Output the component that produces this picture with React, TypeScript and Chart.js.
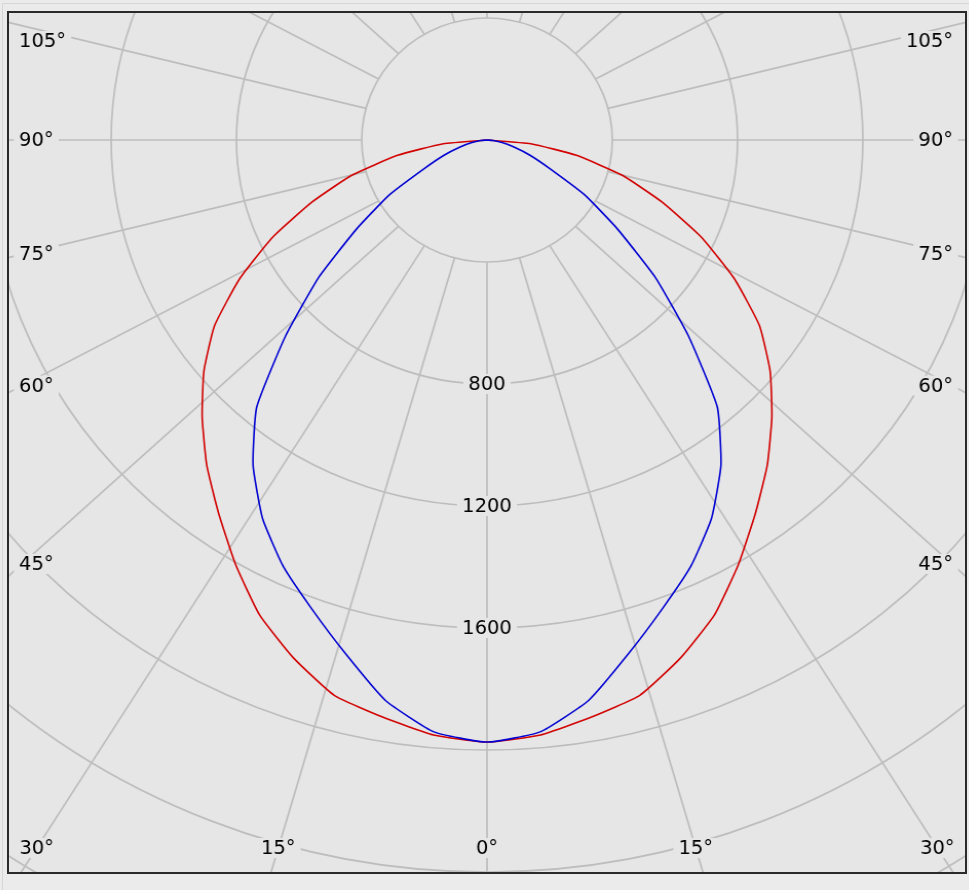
import React, { useEffect, useRef } from "react";
import { Chart, registerables } from "chart.js";

Chart.register(...registerables);

// ---- data (candela values, every 5°) ----
const angles = [0, 5, 10, 15, 20, 25, 30, 35, 40, 45, 50, 55, 60, 65, 70, 75, 80, 85, 90];
const redLeft = [1974, 1958, 1921, 1885, 1807, 1718, 1606, 1494, 1392, 1286, 1180, 1062, 913, 756, 594, 447, 290, 140, 0];
const redRight = [1974, 1958, 1921, 1885, 1807, 1718, 1606, 1494, 1392, 1286, 1180, 1062, 913, 756, 594, 447, 290, 140, 0];
const blueLeft = [1974, 1948, 1866, 1744, 1636, 1541, 1433, 1302, 1144, 910, 702, 508, 360, 220, 146, 89, 49, 20, 0];
const blueRight = [1974, 1948, 1866, 1744, 1636, 1541, 1433, 1302, 1144, 910, 702, 508, 360, 220, 146, 89, 49, 20, 0];

const ringLabels = [800, 1200, 1600];
const innerRingValue = 400;
const spokeAngles = [0, 15, 30, 45, 60, 75, 90, 105, 120, 135, 150, 165, 180];
const sideAngleLabels = [45, 60, 75, 90, 105];
const bottomAngleLabels = [0, 15, 30];

// ---- layout / style ----
const STEP_DEG = 5;
const R_MAX = 3600;
const R_STEP = 400;
const SIZE = 2196;
const HALF = SIZE / 2;
const CENTER = { x: 487, y: 140 };
const FRAME = { left: 7, top: 11, width: 960, height: 863, border: 2 };
const SX = 1.027;
const SPOKE_SKEW = 1.075;
const SPOKE_OUTER = 1000;
const GRID = "#bdbdbd";
const GRID_W = 1.7;
const BG = "#e6e6e6";
const FONT = "19px 'DejaVu Sans', Verdana, sans-serif";

function buildSeries(left: number[], right: number[]) {
  const n = 360 / STEP_DEG;
  const arr: (number | null)[] = new Array(n).fill(null);
  angles.forEach((a, i) => {
    arr[a / STEP_DEG] = left[i];
    if (a > 0) arr[(n - a / STEP_DEG) % n] = right[i];
  });
  return arr;
}

const labels = Array.from({ length: 360 / STEP_DEG }, (_, i) => `${i * STEP_DEG}`);

const polarDecor = {
  id: "polarDecor",
  beforeDatasetsDraw(chart: any) {
    const s = chart.scales.r;
    const ctx: CanvasRenderingContext2D = chart.ctx;
    const xc = s.xCenter;
    const yc = s.yCenter;
    const rIn = s.getDistanceFromCenterForValue(innerRingValue);
    const toCx = (px: number) => xc + (px - CENTER.x) / SX;
    const toCy = (py: number) => yc + (py - CENTER.y);

    const spoke = (a: number, side: number) => {
      const t = (a * Math.PI) / 180;
      const x1 = xc + side * rIn * Math.sin(t);
      const y1 = yc + rIn * Math.cos(t);
      const x2 = xc + side * SPOKE_OUTER * SPOKE_SKEW * Math.sin(t);
      const y2 = yc + SPOKE_OUTER * Math.cos(t);
      return { x1, y1, x2, y2 };
    };

    ctx.save();
    ctx.strokeStyle = GRID;
    ctx.lineWidth = GRID_W;
    spokeAngles.forEach((a) => {
      const sides = a === 0 || a === 180 ? [1] : [-1, 1];
      sides.forEach((side) => {
        const { x1, y1, x2, y2 } = spoke(a, side);
        ctx.beginPath();
        ctx.moveTo(x1, y1);
        ctx.lineTo(x1 + (x2 - x1) * 1.6, y1 + (y2 - y1) * 1.6);
        ctx.stroke();
      });
    });

    ctx.font = FONT;
    ctx.textBaseline = "middle";
    const drawLabel = (text: string, x: number, y: number, align: CanvasTextAlign) => {
      const w = ctx.measureText(text).width;
      let left = x - w / 2;
      if (align === "left") left = x;
      if (align === "right") left = x - w;
      ctx.fillStyle = BG;
      ctx.fillRect(left - 5, y - 10, w + 10, 20);
      ctx.fillStyle = "#000000";
      ctx.textAlign = align;
      ctx.fillText(text, x, y + 1);
    };

    ringLabels.forEach((v) => {
      drawLabel(String(v), xc, yc + s.getDistanceFromCenterForValue(v), "center");
    });

    const minY = toCy(FRAME.top + 30);
    sideAngleLabels.forEach((a) => {
      [-1, 1].forEach((side) => {
        const { x1, y1, x2, y2 } = spoke(a, side);
        const tx = side < 0 ? toCx(22) : toCx(952);
        const f = (tx - x1) / (x2 - x1);
        const y = Math.max(minY, y1 + f * (y2 - y1));
        if (side < 0) drawLabel(`${a}°`, toCx(19), y, "left");
        else drawLabel(`${a}°`, toCx(953), y, "right");
      });
    });

    bottomAngleLabels.forEach((a) => {
      const sides = a === 0 ? [1] : [-1, 1];
      sides.forEach((side) => {
        const { x1, y1, x2, y2 } = spoke(a, side);
        const ty = toCy(848);
        const f = (ty - y1) / (y2 - y1);
        const x = x1 + f * (x2 - x1);
        drawLabel(`${a}°`, x, ty, "center");
      });
    });
    ctx.restore();
  },
};

export default function App() {
  const ref = useRef<HTMLCanvasElement | null>(null);

  useEffect(() => {
    if (!ref.current) return;
    const chart = new Chart(ref.current, {
      type: "radar",
      data: {
        labels,
        datasets: [
          {
            label: "C90 - C270",
            data: buildSeries(blueLeft, blueRight),
            borderColor: "#0000d2",
            borderWidth: 1.6,
            pointRadius: 0,
            fill: false,
            spanGaps: false,
            tension: 0.15,
          },
          {
            label: "C0 - C180",
            data: buildSeries(redLeft, redRight),
            borderColor: "#d20000",
            borderWidth: 1.6,
            pointRadius: 0,
            fill: false,
            spanGaps: false,
            tension: 0.15,
          },
        ],
      },
      options: {
        responsive: false,
        animation: false,
        devicePixelRatio: 1,
        layout: { padding: 0 },
        plugins: {
          legend: { display: false },
          tooltip: { enabled: false },
          title: { display: false },
        },
        elements: { line: { borderJoinStyle: "round" } },
        scales: {
          r: {
            min: 0,
            max: R_MAX,
            startAngle: 180,
            ticks: { display: false, stepSize: R_STEP },
            grid: { circular: true, color: GRID, lineWidth: GRID_W },
            angleLines: { display: false },
            pointLabels: { display: false },
          },
        },
      } as any,
      plugins: [polarDecor as any],
    });
    return () => chart.destroy();
  }, []);

  const innerLeft = FRAME.left + FRAME.border;
  const innerTop = FRAME.top + FRAME.border;

  return (
    <div
      style={{
        position: "fixed",
        left: 0,
        top: 0,
        width: 969,
        height: 890,
        background: "#ebebeb",
        overflow: "hidden",
      }}
    >
      <div
        style={{
          position: "absolute",
          left: 2,
          top: 3,
          width: 969,
          height: 890,
          borderLeft: "1px solid #d6d6d6",
          borderTop: "1px solid #d6d6d6",
        }}
      />
      <div
        style={{
          position: "absolute",
          left: FRAME.left,
          top: FRAME.top,
          width: FRAME.width,
          height: FRAME.height,
          boxSizing: "border-box",
          border: `${FRAME.border}px solid #2a2a2a`,
          background: BG,
          overflow: "hidden",
        }}
      >
        <canvas
          ref={ref}
          width={SIZE}
          height={SIZE}
          style={{
            position: "absolute",
            left: CENTER.x - HALF - innerLeft,
            top: CENTER.y - HALF - innerTop,
            width: SIZE,
            height: SIZE,
            transform: `scaleX(${SX})`,
            transformOrigin: `${HALF}px ${HALF}px`,
          }}
        />
      </div>
    </div>
  );
}
